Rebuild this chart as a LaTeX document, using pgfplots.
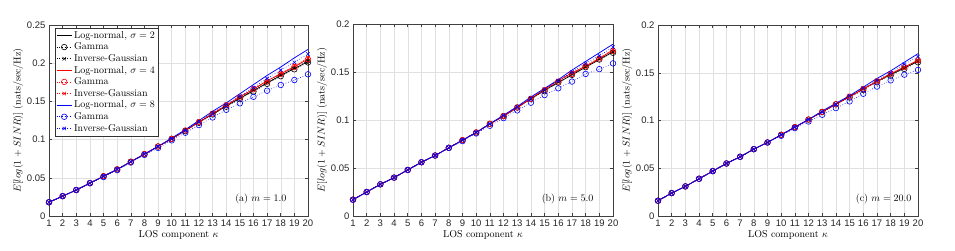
\documentclass[border=0pt]{standalone}
\usepackage{pgfplots}
\usepackage{pgfplotstable}
\usepackage{fontspec}
\pgfplotsset{compat=1.18}
\newfontfamily\helv{Liberation Sans}

\pgfplotstableread{
k ln2 g2 ig2 ln4 g4 ig4 ln8 g8 ig8
1 0.018 0.018 0.018 0.018 0.018 0.018 0.018 0.018 0.018
2 0.026 0.026 0.026 0.026 0.026 0.026 0.026 0.026 0.026
3 0.034 0.034 0.034 0.034 0.034 0.034 0.034 0.034 0.034
4 0.043 0.043 0.043 0.043 0.043 0.043 0.043 0.043 0.043
5 0.052 0.052 0.052 0.052 0.052 0.052 0.052 0.051 0.052
6 0.061 0.061 0.061 0.061 0.061 0.061 0.061 0.060 0.061
7 0.071 0.071 0.071 0.071 0.071 0.071 0.071 0.070 0.071
8 0.081 0.081 0.081 0.081 0.081 0.081 0.081 0.080 0.081
9 0.091 0.091 0.091 0.091 0.091 0.091 0.091 0.089 0.091
10 0.101 0.101 0.101 0.101 0.101 0.101 0.102 0.099 0.101
11 0.112 0.111 0.112 0.112 0.112 0.112 0.113 0.109 0.112
12 0.123 0.122 0.123 0.123 0.123 0.123 0.125 0.119 0.124
13 0.133 0.133 0.134 0.134 0.134 0.134 0.137 0.129 0.135
14 0.144 0.143 0.144 0.145 0.145 0.145 0.148 0.139 0.146
15 0.154 0.153 0.155 0.156 0.155 0.156 0.160 0.1475 0.157
16 0.164 0.163 0.165 0.166 0.166 0.167 0.172 0.156 0.168
17 0.174 0.173 0.175 0.177 0.176 0.177 0.184 0.164 0.180
18 0.184 0.183 0.185 0.186 0.186 0.187 0.195 0.1715 0.191
19 0.193 0.192 0.194 0.1955 0.195 0.197 0.207 0.178 0.201
20 0.202 0.201 0.203 0.2055 0.205 0.207 0.218 0.1855 0.212
}\dataA

\pgfplotstableread{
k ln2 g2 ig2 ln4 g4 ig4 ln8 g8 ig8
1 0.017 0.017 0.017 0.017 0.017 0.017 0.017 0.017 0.017
2 0.025 0.025 0.025 0.025 0.025 0.025 0.025 0.025 0.025
3 0.033 0.033 0.033 0.033 0.033 0.033 0.033 0.033 0.033
4 0.040 0.040 0.040 0.040 0.040 0.040 0.040 0.040 0.040
5 0.048 0.048 0.048 0.048 0.048 0.048 0.048 0.048 0.048
6 0.056 0.056 0.056 0.056 0.056 0.056 0.056 0.056 0.056
7 0.063 0.063 0.063 0.063 0.063 0.063 0.063 0.063 0.063
8 0.071 0.071 0.071 0.071 0.071 0.071 0.071 0.071 0.071
9 0.079 0.079 0.079 0.079 0.079 0.079 0.079 0.078 0.079
10 0.087 0.087 0.087 0.087 0.087 0.087 0.087 0.086 0.087
11 0.096 0.096 0.096 0.096 0.096 0.096 0.096 0.094 0.096
12 0.104 0.104 0.104 0.104 0.104 0.104 0.105 0.102 0.105
13 0.113 0.113 0.113 0.113 0.113 0.113 0.114 0.110 0.114
14 0.122 0.122 0.122 0.1225 0.122 0.123 0.124 0.118 0.123
15 0.131 0.130 0.131 0.132 0.131 0.132 0.133 0.126 0.132
16 0.139 0.139 0.140 0.141 0.140 0.141 0.142 0.133 0.141
17 0.147 0.147 0.148 0.149 0.148 0.149 0.152 0.140 0.150
18 0.155 0.155 0.156 0.156 0.156 0.157 0.161 0.148 0.159
19 0.163 0.163 0.164 0.164 0.164 0.165 0.170 0.153 0.167
20 0.171 0.170 0.171 0.173 0.172 0.173 0.179 0.159 0.176
}\dataB

\pgfplotstableread{
k ln2 g2 ig2 ln4 g4 ig4 ln8 g8 ig8
1 0.016 0.016 0.016 0.016 0.016 0.016 0.016 0.016 0.016
2 0.024 0.024 0.024 0.024 0.024 0.024 0.024 0.024 0.024
3 0.031 0.031 0.031 0.031 0.031 0.031 0.031 0.031 0.031
4 0.039 0.039 0.039 0.039 0.039 0.039 0.039 0.039 0.039
5 0.047 0.047 0.047 0.047 0.047 0.047 0.047 0.047 0.047
6 0.055 0.055 0.055 0.055 0.055 0.055 0.055 0.055 0.055
7 0.062 0.062 0.062 0.062 0.062 0.062 0.062 0.062 0.062
8 0.070 0.070 0.070 0.070 0.070 0.070 0.070 0.070 0.070
9 0.077 0.077 0.077 0.077 0.077 0.077 0.077 0.077 0.077
10 0.085 0.085 0.085 0.085 0.085 0.085 0.085 0.084 0.085
11 0.093 0.093 0.093 0.093 0.093 0.093 0.093 0.092 0.093
12 0.101 0.101 0.101 0.101 0.101 0.101 0.101 0.099 0.101
13 0.109 0.109 0.109 0.109 0.109 0.109 0.110 0.106 0.109
14 0.117 0.117 0.117 0.117 0.117 0.117 0.118 0.113 0.117
15 0.125 0.124 0.125 0.125 0.125 0.125 0.126 0.120 0.126
16 0.133 0.132 0.133 0.133 0.133 0.133 0.135 0.128 0.134
17 0.141 0.140 0.141 0.141 0.141 0.141 0.144 0.1355 0.142
18 0.148 0.147 0.148 0.149 0.149 0.149 0.152 0.142 0.150
19 0.155 0.154 0.155 0.156 0.156 0.156 0.161 0.148 0.159
20 0.162 0.161 0.162 0.163 0.163 0.163 0.170 0.153 0.167
}\dataC

\pgfplotsset{
  panel/.style={
    scale only axis, width=260pt, height=191pt,
    xmin=1, xmax=20, xtick={1,...,20}, ymin=0,
    grid=major, major grid style={black!12, line width=0.4pt},
    axis line style={black!75, line width=0.5pt},
    tick style={black!75, line width=0.5pt},
    major tick length=3pt, tick align=inside,
    /pgf/number format/assume math mode=true,
    tick label style={font=\helv\fontsize{9.5}{10}\selectfont, text=black!85},
    yticklabel style={/pgf/number format/fixed, /pgf/number format/precision=2},
    xlabel={LOS component $\kappa$},
    ylabel={$E[log(1+SINR)]$ (nats/sec/Hz)},
    label style={font=\fontsize{10}{12}\selectfont},
    xlabel style={yshift=3pt},
    ylabel style={yshift=-3pt},
    legend image code/.code={\draw[mark repeat=2,mark phase=2] plot coordinates {(0pt,0pt) (7.5pt,0pt) (15pt,0pt)};},
  },
  ln/.style={solid, line width=0.75pt, no markers},
  gm/.style={dotted, line width=0.6pt, mark=o, mark size=2.8pt, mark options={solid, line width=0.6pt}},
  ig/.style={dotted, line width=0.6pt, mark=x, mark size=2.4pt, mark options={solid, line width=0.6pt}},
}

\begin{document}
\begin{tikzpicture}
\useasboundingbox (0,0) rectangle (955pt,250pt);

\begin{axis}[panel, at={(49pt,34pt)}, anchor=south west, width=259pt, ymax=0.25,
  ytick={0,0.05,...,0.25},
  legend style={at={(0.023,0.985)}, anchor=north west, draw=black!80, fill=white,
    font=\fontsize{10}{11}\selectfont, inner sep=1.2pt, row sep=-0.9pt,
    legend cell align=left}]
\addplot[black, ln] table[x=k, y=ln2] {\dataA};
\addplot[black, gm] table[x=k, y=g2] {\dataA};
\addplot[black, ig] table[x=k, y=ig2] {\dataA};
\addplot[red, ln] table[x=k, y=ln4] {\dataA};
\addplot[red, gm] table[x=k, y=g4] {\dataA};
\addplot[red, ig] table[x=k, y=ig4] {\dataA};
\addplot[blue, ln] table[x=k, y=ln8] {\dataA};
\addplot[blue, gm] table[x=k, y=g8] {\dataA};
\addplot[blue, ig] table[x=k, y=ig8] {\dataA};
\legend{{Log-normal, $\sigma=2$}, Gamma, Inverse-Gaussian,
        {Log-normal, $\sigma=4$}, Gamma, Inverse-Gaussian,
        {Log-normal, $\sigma=8$}, Gamma, Inverse-Gaussian}
\node[anchor=east, font=\fontsize{10}{12}\selectfont] at (rel axis cs:0.93,0.089) {(a) $m=1.0$};
\end{axis}

\begin{axis}[panel, at={(353pt,34pt)}, anchor=south west, ymax=0.2,
  ytick={0,0.05,...,0.2}, height=192pt]
\addplot[black, ln] table[x=k, y=ln2] {\dataB};
\addplot[black, gm] table[x=k, y=g2] {\dataB};
\addplot[black, ig] table[x=k, y=ig2] {\dataB};
\addplot[red, ln] table[x=k, y=ln4] {\dataB};
\addplot[red, gm] table[x=k, y=g4] {\dataB};
\addplot[red, ig] table[x=k, y=ig4] {\dataB};
\addplot[blue, ln] table[x=k, y=ln8] {\dataB};
\addplot[blue, gm] table[x=k, y=g8] {\dataB};
\addplot[blue, ig] table[x=k, y=ig8] {\dataB};
\node[anchor=east, font=\fontsize{10}{12}\selectfont] at (rel axis cs:0.938,0.089) {(b) $m=5.0$};
\end{axis}

\begin{axis}[panel, at={(658pt,34pt)}, anchor=south west, ymax=0.2,
  ytick={0,0.05,...,0.2}]
\addplot[black, ln] table[x=k, y=ln2] {\dataC};
\addplot[black, gm] table[x=k, y=g2] {\dataC};
\addplot[black, ig] table[x=k, y=ig2] {\dataC};
\addplot[red, ln] table[x=k, y=ln4] {\dataC};
\addplot[red, gm] table[x=k, y=g4] {\dataC};
\addplot[red, ig] table[x=k, y=ig4] {\dataC};
\addplot[blue, ln] table[x=k, y=ln8] {\dataC};
\addplot[blue, gm] table[x=k, y=g8] {\dataC};
\addplot[blue, ig] table[x=k, y=ig8] {\dataC};
\node[anchor=east, font=\fontsize{10}{12}\selectfont] at (rel axis cs:0.988,0.089) {(c) $m=20.0$};
\end{axis}
\end{tikzpicture}
\end{document}
